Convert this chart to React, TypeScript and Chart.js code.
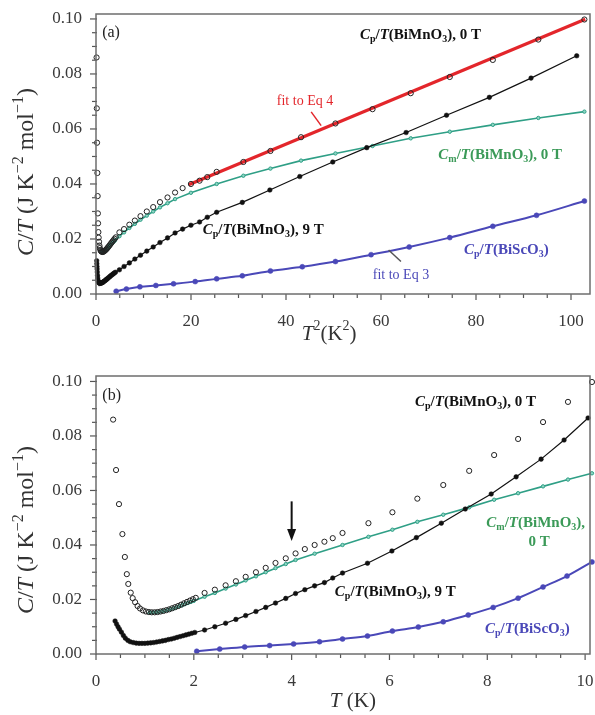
import React, { useEffect, useRef } from 'react';
import { Chart, registerables } from 'chart.js';
Chart.register(...registerables);

// ---- data (temperature T in K, C/T in J K^-2 mol^-1) ----
// Cp/T of BiMnO3 at 0 T (open circles)
const tOpen = [0.35, 0.41, 0.47, 0.54, 0.59, 0.63, 0.66, 0.71, 0.75, 0.80, 0.85, 0.90, 0.96, 1.02, 1.08, 1.14, 1.20, 1.26, 1.32, 1.38, 1.44, 1.50, 1.56, 1.62, 1.68, 1.74, 1.80, 1.86, 1.92, 1.98, 2.04, 2.22, 2.43, 2.65, 2.86, 3.06, 3.27, 3.47, 3.67, 3.88, 4.08, 4.27, 4.47, 4.67, 4.84, 5.04, 5.57, 6.06, 6.57, 7.10, 7.63, 8.14, 8.63, 9.14, 9.65, 10.14];
const cOpen = [0.0860, 0.0675, 0.0550, 0.0440, 0.0356, 0.0293, 0.0257, 0.0225, 0.0205, 0.0190, 0.0176, 0.0167, 0.0160, 0.0156, 0.0154, 0.0153, 0.0153, 0.0154, 0.0156, 0.0158, 0.0161, 0.0164, 0.0168, 0.0172, 0.0176, 0.0181, 0.0186, 0.0191, 0.0196, 0.0201, 0.0206, 0.0224, 0.0236, 0.0252, 0.0267, 0.0283, 0.0300, 0.0316, 0.0334, 0.0351, 0.0369, 0.0385, 0.0400, 0.0412, 0.0425, 0.0444, 0.0480, 0.0520, 0.0570, 0.0620, 0.0672, 0.0730, 0.0789, 0.0851, 0.0925, 0.0998];
// Cp/T of BiMnO3 at 9 T (filled circles)
const t9T = [0.39, 0.42, 0.45, 0.48, 0.52, 0.56, 0.60, 0.65, 0.70, 0.76, 0.82, 0.88, 0.94, 1.00, 1.06, 1.12, 1.18, 1.24, 1.30, 1.36, 1.42, 1.48, 1.54, 1.60, 1.66, 1.72, 1.78, 1.84, 1.90, 1.96, 2.02, 2.22, 2.43, 2.65, 2.86, 3.06, 3.27, 3.47, 3.67, 3.88, 4.08, 4.27, 4.47, 4.67, 4.84, 5.04, 5.55, 6.05, 6.55, 7.06, 7.55, 8.08, 8.59, 9.10, 9.57, 10.06];
const c9T = [0.0121, 0.0110, 0.0100, 0.0091, 0.0080, 0.0068, 0.0058, 0.0050, 0.0045, 0.0042, 0.0040, 0.0039, 0.0039, 0.0039, 0.0040, 0.0041, 0.0042, 0.0044, 0.0046, 0.0048, 0.0050, 0.0053, 0.0055, 0.0058, 0.0061, 0.0064, 0.0067, 0.0070, 0.0073, 0.0076, 0.0079, 0.0088, 0.0100, 0.0113, 0.0127, 0.0141, 0.0156, 0.0171, 0.0187, 0.0204, 0.0222, 0.0236, 0.0250, 0.0262, 0.0279, 0.0297, 0.0333, 0.0378, 0.0427, 0.0480, 0.0532, 0.0587, 0.0650, 0.0715, 0.0785, 0.0866];
// Cm/T of BiMnO3 at 0 T (magnetic part)
const tMag = [1.10, 1.16, 1.22, 1.28, 1.34, 1.40, 1.46, 1.52, 1.58, 1.64, 1.70, 1.76, 1.82, 1.88, 1.94, 2.00, 2.22, 2.43, 2.65, 2.86, 3.06, 3.27, 3.47, 3.67, 3.88, 4.08, 4.47, 5.04, 5.57, 6.06, 6.57, 7.10, 7.63, 8.14, 8.63, 9.14, 9.65, 10.14];
const cMag = [0.0152, 0.0152, 0.0153, 0.0154, 0.0156, 0.0158, 0.0161, 0.0164, 0.0167, 0.0171, 0.0175, 0.0179, 0.0183, 0.0187, 0.0191, 0.0195, 0.0210, 0.0224, 0.0240, 0.0255, 0.0270, 0.0285, 0.0300, 0.0315, 0.0330, 0.0345, 0.0368, 0.0400, 0.0430, 0.0456, 0.0485, 0.0511, 0.0538, 0.0566, 0.0590, 0.0615, 0.0640, 0.0663];
// Cp/T of BiScO3
const tSc = [2.06, 2.53, 3.04, 3.55, 4.04, 4.57, 5.04, 5.55, 6.06, 6.59, 7.10, 7.61, 8.12, 8.63, 9.14, 9.63, 10.14];
const cSc = [0.0010, 0.0018, 0.0026, 0.0031, 0.0037, 0.0045, 0.0055, 0.0066, 0.0084, 0.0099, 0.0118, 0.0143, 0.0171, 0.0205, 0.0246, 0.0286, 0.0338];
// fit to Eq 4 (straight line in T^2)
const fit4T2 = [19.5, 103];
const fit4C = [0.0397, 0.0999];

// tick labels
const yMajor = [0, 0.02, 0.04, 0.06, 0.08, 0.10];
const xMajorTop = [0, 20, 40, 60, 80, 100];
const xMajorBottom = [0, 2, 4, 6, 8, 10];

const FAM = '"Liberation Serif", "Times New Roman", serif';
const RED = '#e3262b';
const TEAL = '#2f9f86';
const TEAL_TXT = '#3b9a58';
const BLUE = '#4a48b8';

type Seg = [string, string];

function drawRich(ctx: CanvasRenderingContext2D, segs: Seg[], x: number, y: number, size: number, color: string, bold: boolean, align: string) {
  const fontFor = (st: string) => {
    const small = st.includes('s') || st.includes('S');
    const it = st.includes('i');
    return `${it ? 'italic ' : ''}${bold ? 'bold ' : ''}${small ? Math.round(size * 0.68) : size}px ${FAM}`;
  };
  let w = 0;
  for (const [t, st] of segs) { ctx.font = fontFor(st); w += ctx.measureText(t).width; }
  let cx = align === 'center' ? x - w / 2 : align === 'right' ? x - w : x;
  ctx.fillStyle = color;
  ctx.textBaseline = 'middle';
  ctx.textAlign = 'left';
  for (const [t, st] of segs) {
    ctx.font = fontFor(st);
    const dy = st.includes('s') ? size * 0.3 : st.includes('S') ? -size * 0.35 : 0;
    ctx.fillText(t, cx, y + dy);
    cx += ctx.measureText(t).width;
  }
}

const lblCp0: Seg[] = [['C', 'i'], ['p', 's'], ['/', ''], ['T', 'i'], ['(BiMnO', ''], ['3', 's'], ['), 0 T', '']];
const lblCp9: Seg[] = [['C', 'i'], ['p', 's'], ['/', ''], ['T', 'i'], ['(BiMnO', ''], ['3', 's'], ['), 9 T', '']];
const lblCm0: Seg[] = [['C', 'i'], ['m', 's'], ['/', ''], ['T', 'i'], ['(BiMnO', ''], ['3', 's'], ['), 0 T', '']];
const lblCm0a: Seg[] = [['C', 'i'], ['m', 's'], ['/', ''], ['T', 'i'], ['(BiMnO', ''], ['3', 's'], ['),', '']];
const lblCm0b: Seg[] = [['0 T', '']];
const lblSc: Seg[] = [['C', 'i'], ['p', 's'], ['/', ''], ['T', 'i'], ['(BiScO', ''], ['3', 's'], [')', '']];
const yTitle: Seg[] = [['C', 'i'], ['/', ''], ['T', 'i'], [' (J K', ''], ['−2', 'S'], [' mol', ''], ['−1', 'S'], [')', '']];
const xTitleTop: Seg[] = [['T', 'i'], ['2', 'S'], ['(K', ''], ['2', 'S'], [')', '']];
const xTitleBottom: Seg[] = [['T', 'i'], [' (K)', '']];

type Ann = { segs: Seg[]; x: number; y: number; color: string; size: number; bold: boolean; align: string };
type Cfg = {
  xMajor: number[]; xMinorStep: number; xMinorMax: number;
  xTitle: Seg[]; xTitleFrac: number; xTitleDy: number; xTitleSize: number; yTitleDy: number;
  anns: Ann[];
  lines: { x1: number; y1: number; x2: number; y2: number; color: string }[];
  arrow?: { x: number; y1: number; y2: number };
};

function decorPlugin(cfg: Cfg) {
  return {
    id: 'decor',
    afterDraw(chart: any) {
      const { ctx, chartArea: a } = chart;
      const xs = chart.scales.x, ys = chart.scales.y;
      ctx.save();
      // ticks
      ctx.strokeStyle = '#555';
      ctx.lineWidth = 1.2;
      const isMaj = (v: number, arr: number[]) => arr.some((m) => Math.abs(m - v) < 1e-9);
      for (let v = 0; v <= cfg.xMinorMax + 1e-9; v += cfg.xMinorStep) {
        const px = xs.getPixelForValue(v);
        const L = isMaj(v, cfg.xMajor) ? 6 : 4;
        ctx.beginPath(); ctx.moveTo(px, a.bottom); ctx.lineTo(px, a.bottom + L); ctx.stroke();
      }
      for (let v = 0; v <= 0.1 + 1e-9; v += 0.005) {
        const py = ys.getPixelForValue(v);
        const L = isMaj(v, yMajor) ? 6 : 4;
        ctx.beginPath(); ctx.moveTo(a.left - L, py); ctx.lineTo(a.left + 1, py); ctx.stroke();
      }
      // frame
      ctx.strokeStyle = '#6e6e6e';
      ctx.lineWidth = 1.5;
      ctx.strokeRect(a.left, a.top, a.right - a.left, a.bottom - a.top);
      // pointer lines
      for (const l of cfg.lines) {
        ctx.strokeStyle = l.color; ctx.lineWidth = 1.5;
        ctx.beginPath();
        ctx.moveTo(xs.getPixelForValue(l.x1), ys.getPixelForValue(l.y1));
        ctx.lineTo(xs.getPixelForValue(l.x2), ys.getPixelForValue(l.y2));
        ctx.stroke();
      }
      // arrow
      if (cfg.arrow) {
        const ax = xs.getPixelForValue(cfg.arrow.x);
        const ay1 = ys.getPixelForValue(cfg.arrow.y1);
        const ay2 = ys.getPixelForValue(cfg.arrow.y2);
        ctx.strokeStyle = '#111'; ctx.fillStyle = '#111'; ctx.lineWidth = 2;
        ctx.beginPath(); ctx.moveTo(ax, ay1); ctx.lineTo(ax, ay2 - 8); ctx.stroke();
        ctx.beginPath(); ctx.moveTo(ax - 4.5, ay2 - 12); ctx.lineTo(ax + 4.5, ay2 - 12); ctx.lineTo(ax, ay2); ctx.closePath(); ctx.fill();
      }
      // annotations
      for (const an of cfg.anns) {
        drawRich(ctx, an.segs, xs.getPixelForValue(an.x), ys.getPixelForValue(an.y), an.size, an.color, an.bold, an.align);
      }
      // axis titles
      drawRich(ctx, cfg.xTitle, a.left + (a.right - a.left) * cfg.xTitleFrac, a.bottom + cfg.xTitleDy, cfg.xTitleSize, '#333', false, 'center');
      ctx.save();
      ctx.translate(27, (a.top + a.bottom) / 2 + cfg.yTitleDy);
      ctx.rotate(-Math.PI / 2);
      drawRich(ctx, yTitle, 0, 0, 24, '#333', false, 'center');
      ctx.restore();
      ctx.restore();
    },
  };
}

function pts(ts: number[], cs: number[], sq: boolean) {
  return ts.map((t, i) => ({ x: sq ? t * t : t, y: cs[i] }));
}

function makeDatasets(top: boolean): any[] {
  const ds: any[] = [
    {
      data: pts(tOpen, cOpen, top), showLine: false, pointRadius: 2.6, pointBorderWidth: 1,
      pointBorderColor: '#222', pointBackgroundColor: 'rgba(255,255,255,0)', clip: false,
    },
    {
      data: pts(t9T, c9T, top), showLine: true, borderColor: '#111', borderWidth: 1.2,
      pointRadius: 2.3, pointBorderWidth: 0.5, pointBorderColor: '#111', pointBackgroundColor: '#111', clip: false,
    },
    {
      data: pts(tSc, cSc, top), showLine: true, borderColor: BLUE, borderWidth: 2, tension: 0.4, cubicInterpolationMode: 'monotone',
      pointRadius: 2.5, pointBorderWidth: 0.5, pointBorderColor: BLUE, pointBackgroundColor: BLUE, clip: false,
    },
    {
      data: pts(tMag, cMag, top), showLine: true, borderColor: TEAL, borderWidth: 1.6,
      pointRadius: 1.7, pointBorderWidth: 1, pointBorderColor: TEAL, pointBackgroundColor: '#8fd6c4', clip: false,
    },
  ];
  if (top) {
    ds.push({
      data: fit4T2.map((x, i) => ({ x, y: fit4C[i] })), showLine: true, borderColor: RED, borderWidth: 3.2,
      pointRadius: 0, clip: false,
    });
  }
  return ds;
}

function makeConfig(top: boolean): any {
  const xMajor = top ? xMajorTop : xMajorBottom;
  const cfg: Cfg = top
    ? {
        xMajor, xMinorStep: 5, xMinorMax: 100, xTitle: xTitleTop, xTitleFrac: 0.472, xTitleDy: 40, xTitleSize: 21, yTitleDy: 18,
        anns: [
          { segs: [['(a)', '']], x: 1.3, y: 0.0948, color: '#222', size: 16, bold: false, align: 'left' },
          { segs: lblCp0, x: 68.3, y: 0.0942, color: '#111', size: 15, bold: true, align: 'center' },
          { segs: [['fit to Eq 4', '']], x: 44, y: 0.0702, color: RED, size: 14, bold: false, align: 'center' },
          { segs: lblCm0, x: 85.1, y: 0.0505, color: TEAL_TXT, size: 15, bold: true, align: 'center' },
          { segs: lblCp9, x: 35.2, y: 0.0233, color: '#111', size: 15, bold: true, align: 'center' },
          { segs: lblSc, x: 86.4, y: 0.016, color: BLUE, size: 15, bold: true, align: 'center' },
          { segs: [['fit to Eq 3', '']], x: 64.2, y: 0.0068, color: BLUE, size: 14, bold: false, align: 'center' },
        ],
        lines: [
          { x1: 45.3, y1: 0.0662, x2: 47.4, y2: 0.0612, color: RED },
          { x1: 61.6, y1: 0.0160, x2: 64.2, y2: 0.0118, color: '#555' },
        ],
      }
    : {
        xMajor, xMinorStep: 0.5, xMinorMax: 10, xTitle: xTitleBottom, xTitleFrac: 0.52, xTitleDy: 47, xTitleSize: 21, yTitleDy: 15,
        anns: [
          { segs: [['(b)', '']], x: 0.13, y: 0.0948, color: '#222', size: 16, bold: false, align: 'left' },
          { segs: lblCp0, x: 7.76, y: 0.0925, color: '#111', size: 15, bold: true, align: 'center' },
          { segs: lblCm0a, x: 7.98, y: 0.048, color: TEAL_TXT, size: 15, bold: true, align: 'left' },
          { segs: lblCm0b, x: 9.06, y: 0.0411, color: TEAL_TXT, size: 15, bold: true, align: 'center' },
          { segs: lblCp9, x: 6.12, y: 0.0228, color: '#111', size: 15, bold: true, align: 'center' },
          { segs: lblSc, x: 8.82, y: 0.0092, color: BLUE, size: 15, bold: true, align: 'center' },
        ],
        lines: [],
        arrow: { x: 4.0, y1: 0.0560, y2: 0.0415 },
      };
  return {
    type: 'scatter',
    data: { datasets: makeDatasets(top) },
    options: {
      responsive: false,
      animation: false,
      events: [],
      layout: { padding: { left: 0, right: top ? 3 : 2, top: top ? 14 : 21, bottom: 0 } },
      plugins: { legend: { display: false }, tooltip: { enabled: false } },
      scales: {
        x: {
          type: 'linear', min: 0, max: top ? 104 : 10.1,
          grid: { display: false, drawTicks: false }, border: { display: false },
          afterBuildTicks: (s: any) => { s.ticks = xMajor.map((v) => ({ value: v })); },
          afterFit: (s: any) => { s.height = 61; s.paddingLeft = 0; s.paddingRight = 0; },
          ticks: { autoSkip: false, maxRotation: 0, padding: 17, color: '#3a3a3a', font: { family: FAM, size: 17 }, callback: (v: any) => String(v) },
        },
        y: {
          type: 'linear', min: 0, max: top ? 0.1018 : 0.102,
          grid: { display: false, drawTicks: false }, border: { display: false },
          afterBuildTicks: (s: any) => { s.ticks = yMajor.map((v) => ({ value: v })); },
          afterFit: (s: any) => { s.width = 96; s.paddingTop = 0; s.paddingBottom = 0; },
          ticks: { autoSkip: false, padding: 14, color: '#3a3a3a', font: { family: FAM, size: 17 }, callback: (v: any) => Number(v).toFixed(2) },
        },
      },
    },
    plugins: [decorPlugin(cfg)],
  };
}

export default function App() {
  const topRef = useRef<HTMLCanvasElement>(null);
  const botRef = useRef<HTMLCanvasElement>(null);
  useEffect(() => {
    const c1 = new Chart(topRef.current as HTMLCanvasElement, makeConfig(true));
    const c2 = new Chart(botRef.current as HTMLCanvasElement, makeConfig(false));
    return () => { c1.destroy(); c2.destroy(); };
  }, []);
  return (
    <div style={{ position: 'absolute', left: 0, top: 0, width: 595, height: 715, background: '#fff', overflow: 'hidden' }}>
      <canvas ref={topRef} width={595} height={355} style={{ position: 'absolute', left: 0, top: 0, width: 595, height: 355 }} />
      <canvas ref={botRef} width={595} height={360} style={{ position: 'absolute', left: 0, top: 355, width: 595, height: 360 }} />
    </div>
  );
}
